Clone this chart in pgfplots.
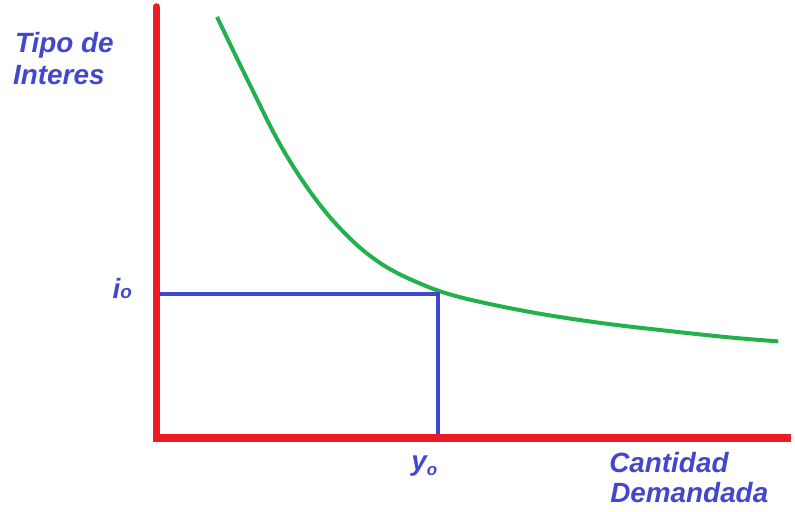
\documentclass[border=0pt]{standalone}
\usepackage{pgfplots}
\pgfplotsset{compat=1.18}
\usepackage{fontspec}
\setmainfont{Liberation Sans}
\definecolor{axred}{HTML}{ED1C24}
\definecolor{crvgreen}{HTML}{22B14C}
\definecolor{lnblue}{HTML}{3F48CC}
\definecolor{txtblue}{HTML}{4347CC}
\tikzset{lbl/.style={anchor=base west, inner sep=0pt, text=txtblue, font=\fontsize{28.1}{32}\selectfont\bfseries\itshape}}
\begin{document}
\begin{tikzpicture}
\begin{axis}[
  scale only axis, width=795bp, height=514bp,
  xmin=-157, xmax=638, ymin=-75, ymax=439,
  axis lines=none, clip=false,
]
\path (rel axis cs:0,0) rectangle (rel axis cs:1,1);
% red axes
\addplot[axred, line width=7.5bp, line cap=round] coordinates {(0,-1) (0,432)};
\addplot[axred, line width=7.5bp] coordinates {(-3,-1) (638,-1)};
% demand curve
\addplot[crvgreen, line width=4bp, smooth, tension=0.6] coordinates {
(61,422) (93,356) (126,291) (160,239) (193,201) (226,174) (263,155)
(303,141) (373,126) (443,115) (510,107) (576,100) (625,96)};
% equilibrium guides
\addplot[lnblue, line width=3.8bp] coordinates {(3,144) (283,144) (283,3)};
% labels
\node[lbl] at (axis cs:-142,386) {Tipo de};
\node[lbl] at (axis cs:-144,354) {Interes};
\node[lbl] at (axis cs:-44,139) {i{\fontsize{19}{20}\selectfont o}};
\node[lbl] at (axis cs:256,-34) {y{\fontsize{17}{20}\selectfont\raisebox{-5bp}{o}}};
\node[lbl] at (axis cs:455,-36) {Cantidad};
\node[lbl] at (axis cs:456,-66) {Demandada};
\end{axis}
\end{tikzpicture}
\end{document}
